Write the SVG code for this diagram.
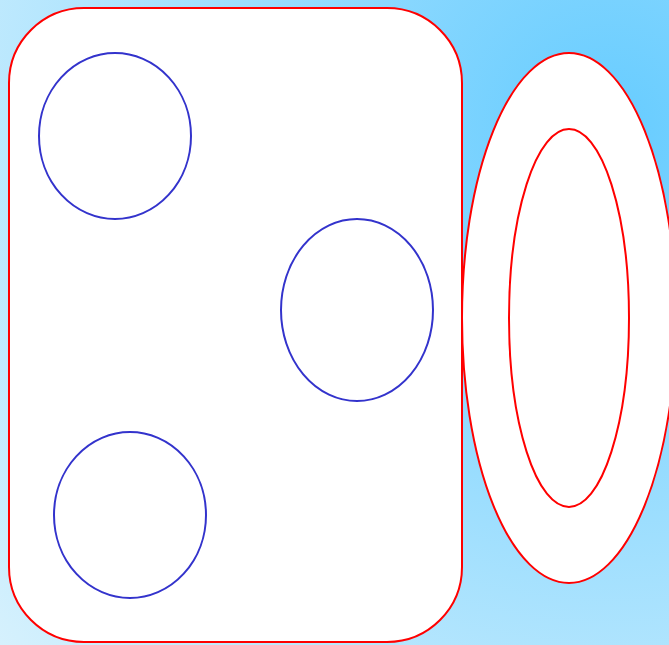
<svg xmlns="http://www.w3.org/2000/svg" width="669" height="645" viewBox="0 0 669 645">
<defs>
<radialGradient id="bg" gradientUnits="userSpaceOnUse" cx="610" cy="130" r="800">
<stop offset="0" stop-color="#66ccff"/>
<stop offset="1" stop-color="#d6f1fd"/>
</radialGradient>
<style>
.red{fill:#fff;stroke:#ff0000;stroke-width:2}
.blue{fill:#fff;stroke:#3333cc;stroke-width:2}
</style>
</defs>
<rect x="0" y="0" width="669" height="645" fill="url(#bg)"/>
<g id="box"><rect class="red" x="9" y="8" width="453" height="634" rx="75" ry="75"/></g>
<g id="outerRing"><ellipse class="red" cx="569" cy="318" rx="107" ry="265"/></g>
<g id="innerRing"><ellipse class="red" cx="569" cy="318" rx="60" ry="189"/></g>
<g id="n1"><ellipse class="blue" cx="115" cy="136" rx="76" ry="83"/></g>
<g id="n2"><ellipse class="blue" cx="357" cy="310" rx="76" ry="91"/></g>
<g id="n3"><ellipse class="blue" cx="130" cy="515" rx="76" ry="83"/></g>
<g id="connectors"></g>
</svg>
